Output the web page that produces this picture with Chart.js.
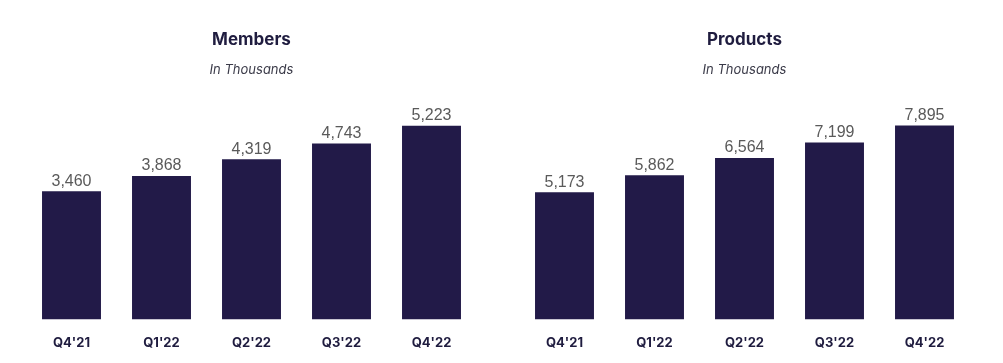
<!DOCTYPE html>
<html>
<head>
<meta charset="utf-8">
<script src="https://cdn.jsdelivr.net/npm/chart.js@4"></script>
<style>
  html, body { margin: 0; padding: 0; background: #fff; }
  .wrap { display: flex; width: 1003px; height: 363px; }
  .box { position: relative; height: 363px; }
</style>
</head>
<body>
<div class="wrap">
  <div class="box" style="width:501px"><canvas id="members"></canvas></div>
  <div class="box" style="width:502px"><canvas id="products"></canvas></div>
</div>
<script>
const quarters = ["Q4'21", "Q1'22", "Q2'22", "Q3'22", "Q4'22"]
const members = [3460, 3868, 4319, 4743, 5223]
const products = [5173, 5862, 6564, 7199, 7895]

const navy = '#221a48'
const titleFont = "Inter, 'Noto Sans', sans-serif"

// draws the value above each bar
const valueLabels = {
  id: 'valueLabels',
  afterDatasetsDraw(chart) {
    const ctx = chart.ctx
    const meta = chart.getDatasetMeta(0)
    const values = chart.data.datasets[0].data
    ctx.save()
    ctx.font = "16px 'Liberation Sans', Arial, sans-serif"
    ctx.fillStyle = '#5a5a5a'
    ctx.textAlign = 'center'
    ctx.textBaseline = 'bottom'
    meta.data.forEach((bar, i) => {
      ctx.fillText(values[i].toLocaleString('en-US'), bar.x, bar.y - 2)
    })
    ctx.restore()
  }
}

function createBarChart(id, title, values, yMax, padLeft, padRight) {
  const ctx = document.getElementById(id).getContext('2d')
  return new Chart(ctx, {
    type: 'bar',
    data: {
      labels: quarters,
      datasets: [{
        data: values,
        backgroundColor: navy,
        borderWidth: 0,
        categoryPercentage: 1,
        barPercentage: 0.655
      }]
    },
    options: {
      responsive: true,
      maintainAspectRatio: false,
      animation: false,
      layout: {
        padding: { left: padLeft, right: padRight, top: 0, bottom: -4 }
      },
      plugins: {
        legend: { display: false },
        tooltip: { enabled: false },
        title: {
          display: true,
          text: title,
          color: '#1f1c3f',
          font: { family: titleFont, size: 17, weight: 'bold', lineHeight: 1.2 },
          padding: { top: 30, bottom: 12 }
        },
        subtitle: {
          display: true,
          text: 'In Thousands',
          color: '#3a3a48',
          font: { family: titleFont, size: 13, style: 'italic', lineHeight: 1.2 },
          padding: { top: 0, bottom: 19 }
        }
      },
      scales: {
        x: {
          grid: { display: false, drawTicks: false },
          border: { display: false },
          ticks: {
            color: '#1f1c3f',
            padding: 16,
            font: { family: titleFont, size: 13, weight: 'bold', lineHeight: 1.2 }
          }
        },
        y: {
          display: false,
          beginAtZero: true,
          min: 0,
          max: yMax
        }
      }
    },
    plugins: [valueLabels]
  })
}

createBarChart('members', 'Members', members, 6000, 26.5, 24.5)
createBarChart('products', 'Products', products, 9050, 18.5, 33.5)
</script>
</body>
</html>
